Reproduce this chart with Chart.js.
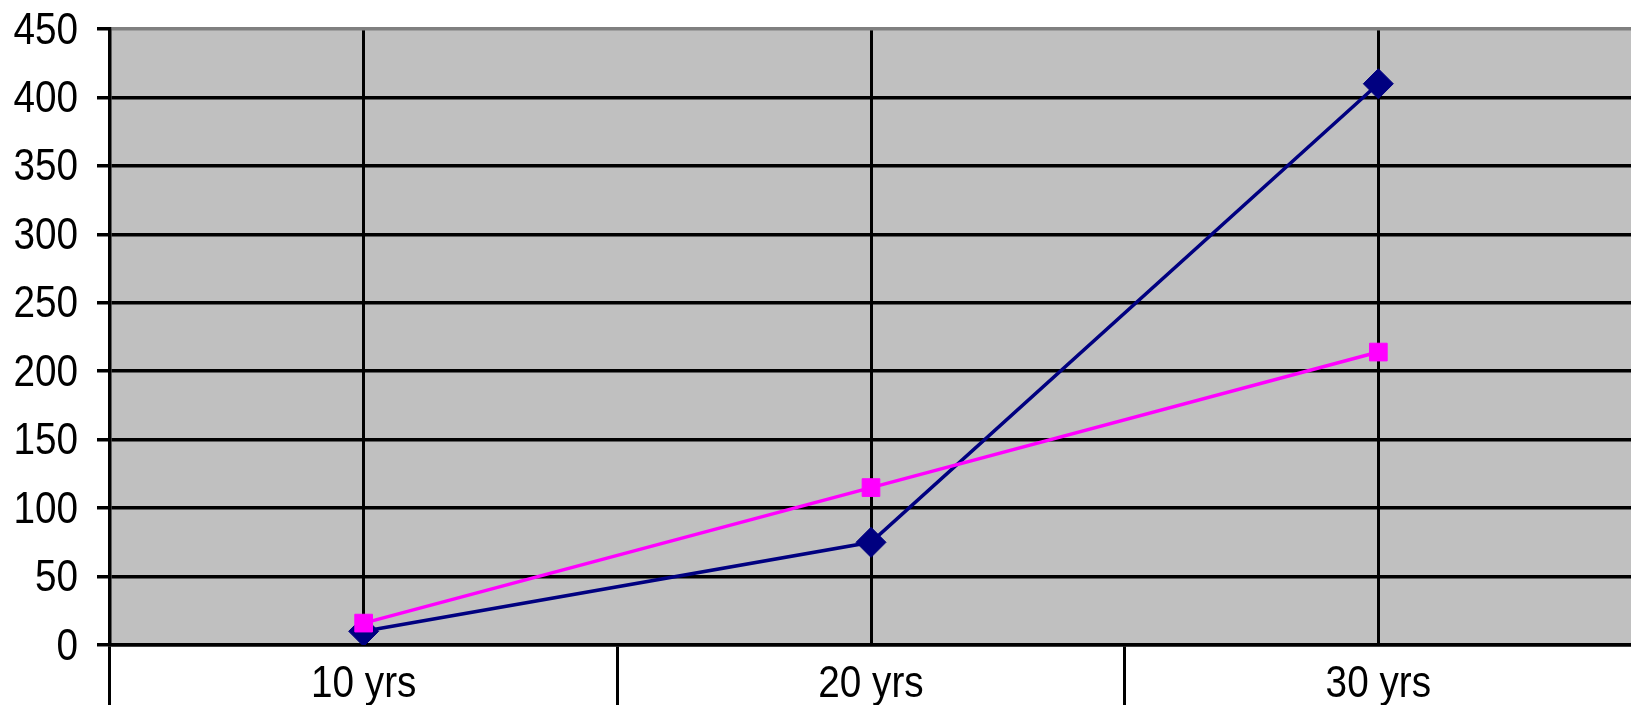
<!DOCTYPE html>
<html>
<head>
<meta charset="utf-8">
<script src="https://cdn.jsdelivr.net/npm/chart.js@4.4.1/dist/chart.umd.min.js"></script>
<style>
  html, body { margin: 0; padding: 0; background: #ffffff; overflow: hidden; }
  #wrap { position: relative; width: 1648px; height: 705px; }
</style>
</head>
<body>
<div id="wrap"><canvas id="chart" width="1648" height="705"></canvas></div>
<script>
// Categories and series values
const categories = ['10 yrs', '20 yrs', '30 yrs'];
const seriesNavy = [10, 75, 410];
const seriesMagenta = [16, 115, 214];
const yTicks = [0, 50, 100, 150, 200, 250, 300, 350, 400, 450];

const FONT = "'Liberation Sans', Arial, sans-serif";
const LABEL_SIZE = 44;
const LABEL_SQUEEZE = 0.88; // condensed look for the axis labels

// Fills the plot area with the grey background
const plotBackground = {
  id: 'plotBackground',
  beforeDraw(chart) {
    const { ctx, chartArea: a } = chart;
    ctx.save();
    ctx.fillStyle = '#c0c0c0';
    ctx.fillRect(a.left, a.top, a.right - a.left, a.bottom - a.top);
    ctx.restore();
  }
};

// Draws the tick labels of both axes in a horizontally condensed face
function drawSqueezed(ctx, text, x, y, align) {
  ctx.save();
  ctx.translate(x, y);
  ctx.scale(LABEL_SQUEEZE, 1);
  ctx.textAlign = align;
  ctx.textBaseline = 'alphabetic';
  ctx.fillText(text, 0, 0);
  ctx.restore();
}

const condensedLabels = {
  id: 'condensedLabels',
  afterDraw(chart) {
    const { ctx, chartArea: a } = chart;
    const xs = chart.scales.x;
    const ys = chart.scales.y;
    ctx.save();
    ctx.fillStyle = '#000000';
    ctx.font = LABEL_SIZE + 'px ' + FONT;
    xs.ticks.forEach((t, i) => {
      drawSqueezed(ctx, String(xs.getLabelForValue(t.value)), xs.getPixelForTick(i), a.bottom + 52, 'center');
    });
    ys.ticks.forEach((t, i) => {
      drawSqueezed(ctx, String(t.value), ys.left + 78, ys.getPixelForTick(i) + 14.5, 'right');
    });
    ctx.restore();
  }
};

// Keeps the label overhang from pushing the plot area inwards
function noOverhang(scale) {
  scale.paddingTop = 0;
  scale.paddingBottom = 0;
  scale.paddingLeft = 0;
  scale.paddingRight = 0;
}

new Chart(document.getElementById('chart'), {
  type: 'line',
  data: {
    labels: categories,
    datasets: [
      {
        data: seriesNavy,
        borderColor: '#000080',
        backgroundColor: '#000080',
        borderWidth: 3.5,
        pointStyle: 'rectRot',
        pointRadius: 15,
        pointBorderWidth: 1,
        tension: 0,
        order: 1
      },
      {
        data: seriesMagenta,
        borderColor: '#ff00ff',
        backgroundColor: '#ff00ff',
        borderWidth: 3.5,
        pointStyle: 'rect',
        pointRadius: 12.5,
        pointBorderWidth: 1,
        tension: 0,
        order: 0
      }
    ]
  },
  options: {
    responsive: false,
    animation: false,
    events: [],
    layout: { padding: { top: 29, right: 12, left: 0, bottom: 0 } },
    plugins: { legend: { display: false }, tooltip: { enabled: false } },
    scales: {
      x: {
        type: 'category',
        position: 'bottom',
        offset: true,
        grid: {
          offset: true,
          color: '#000000',
          lineWidth: 3,
          drawOnChartArea: false,
          tickLength: 62,
          tickColor: '#000000',
          tickWidth: 3
        },
        border: { display: true, color: '#000000', width: 3.5 },
        ticks: {
          color: 'rgba(0,0,0,0)',
          padding: -50,
          font: { family: FONT, size: LABEL_SIZE }
        },
        afterFit(scale) { scale.height = 60; noOverhang(scale); }
      },
      xc: {
        type: 'category',
        position: 'top',
        offset: true,
        grid: {
          offset: false,
          color: '#000000',
          lineWidth: 3,
          drawTicks: false
        },
        border: { display: false },
        ticks: { display: false },
        afterFit(scale) { scale.height = 0; noOverhang(scale); }
      },
      y: {
        min: 0,
        max: 450,
        afterBuildTicks(scale) { scale.ticks = yTicks.map(v => ({ value: v })); },
        grid: {
          color: ctx => (ctx.tick && ctx.tick.value === 450 ? '#808080' : '#000000'),
          lineWidth: 3.5,
          tickLength: 13,
          tickColor: '#000000',
          tickWidth: 3.5
        },
        border: { display: true, color: '#000000', width: 3.5 },
        ticks: {
          color: 'rgba(0,0,0,0)',
          padding: 19,
          font: { family: FONT, size: LABEL_SIZE }
        },
        afterFit(scale) { scale.width = 110; noOverhang(scale); }
      }
    }
  },
  plugins: [plotBackground, condensedLabels]
});
</script>
</body>
</html>
